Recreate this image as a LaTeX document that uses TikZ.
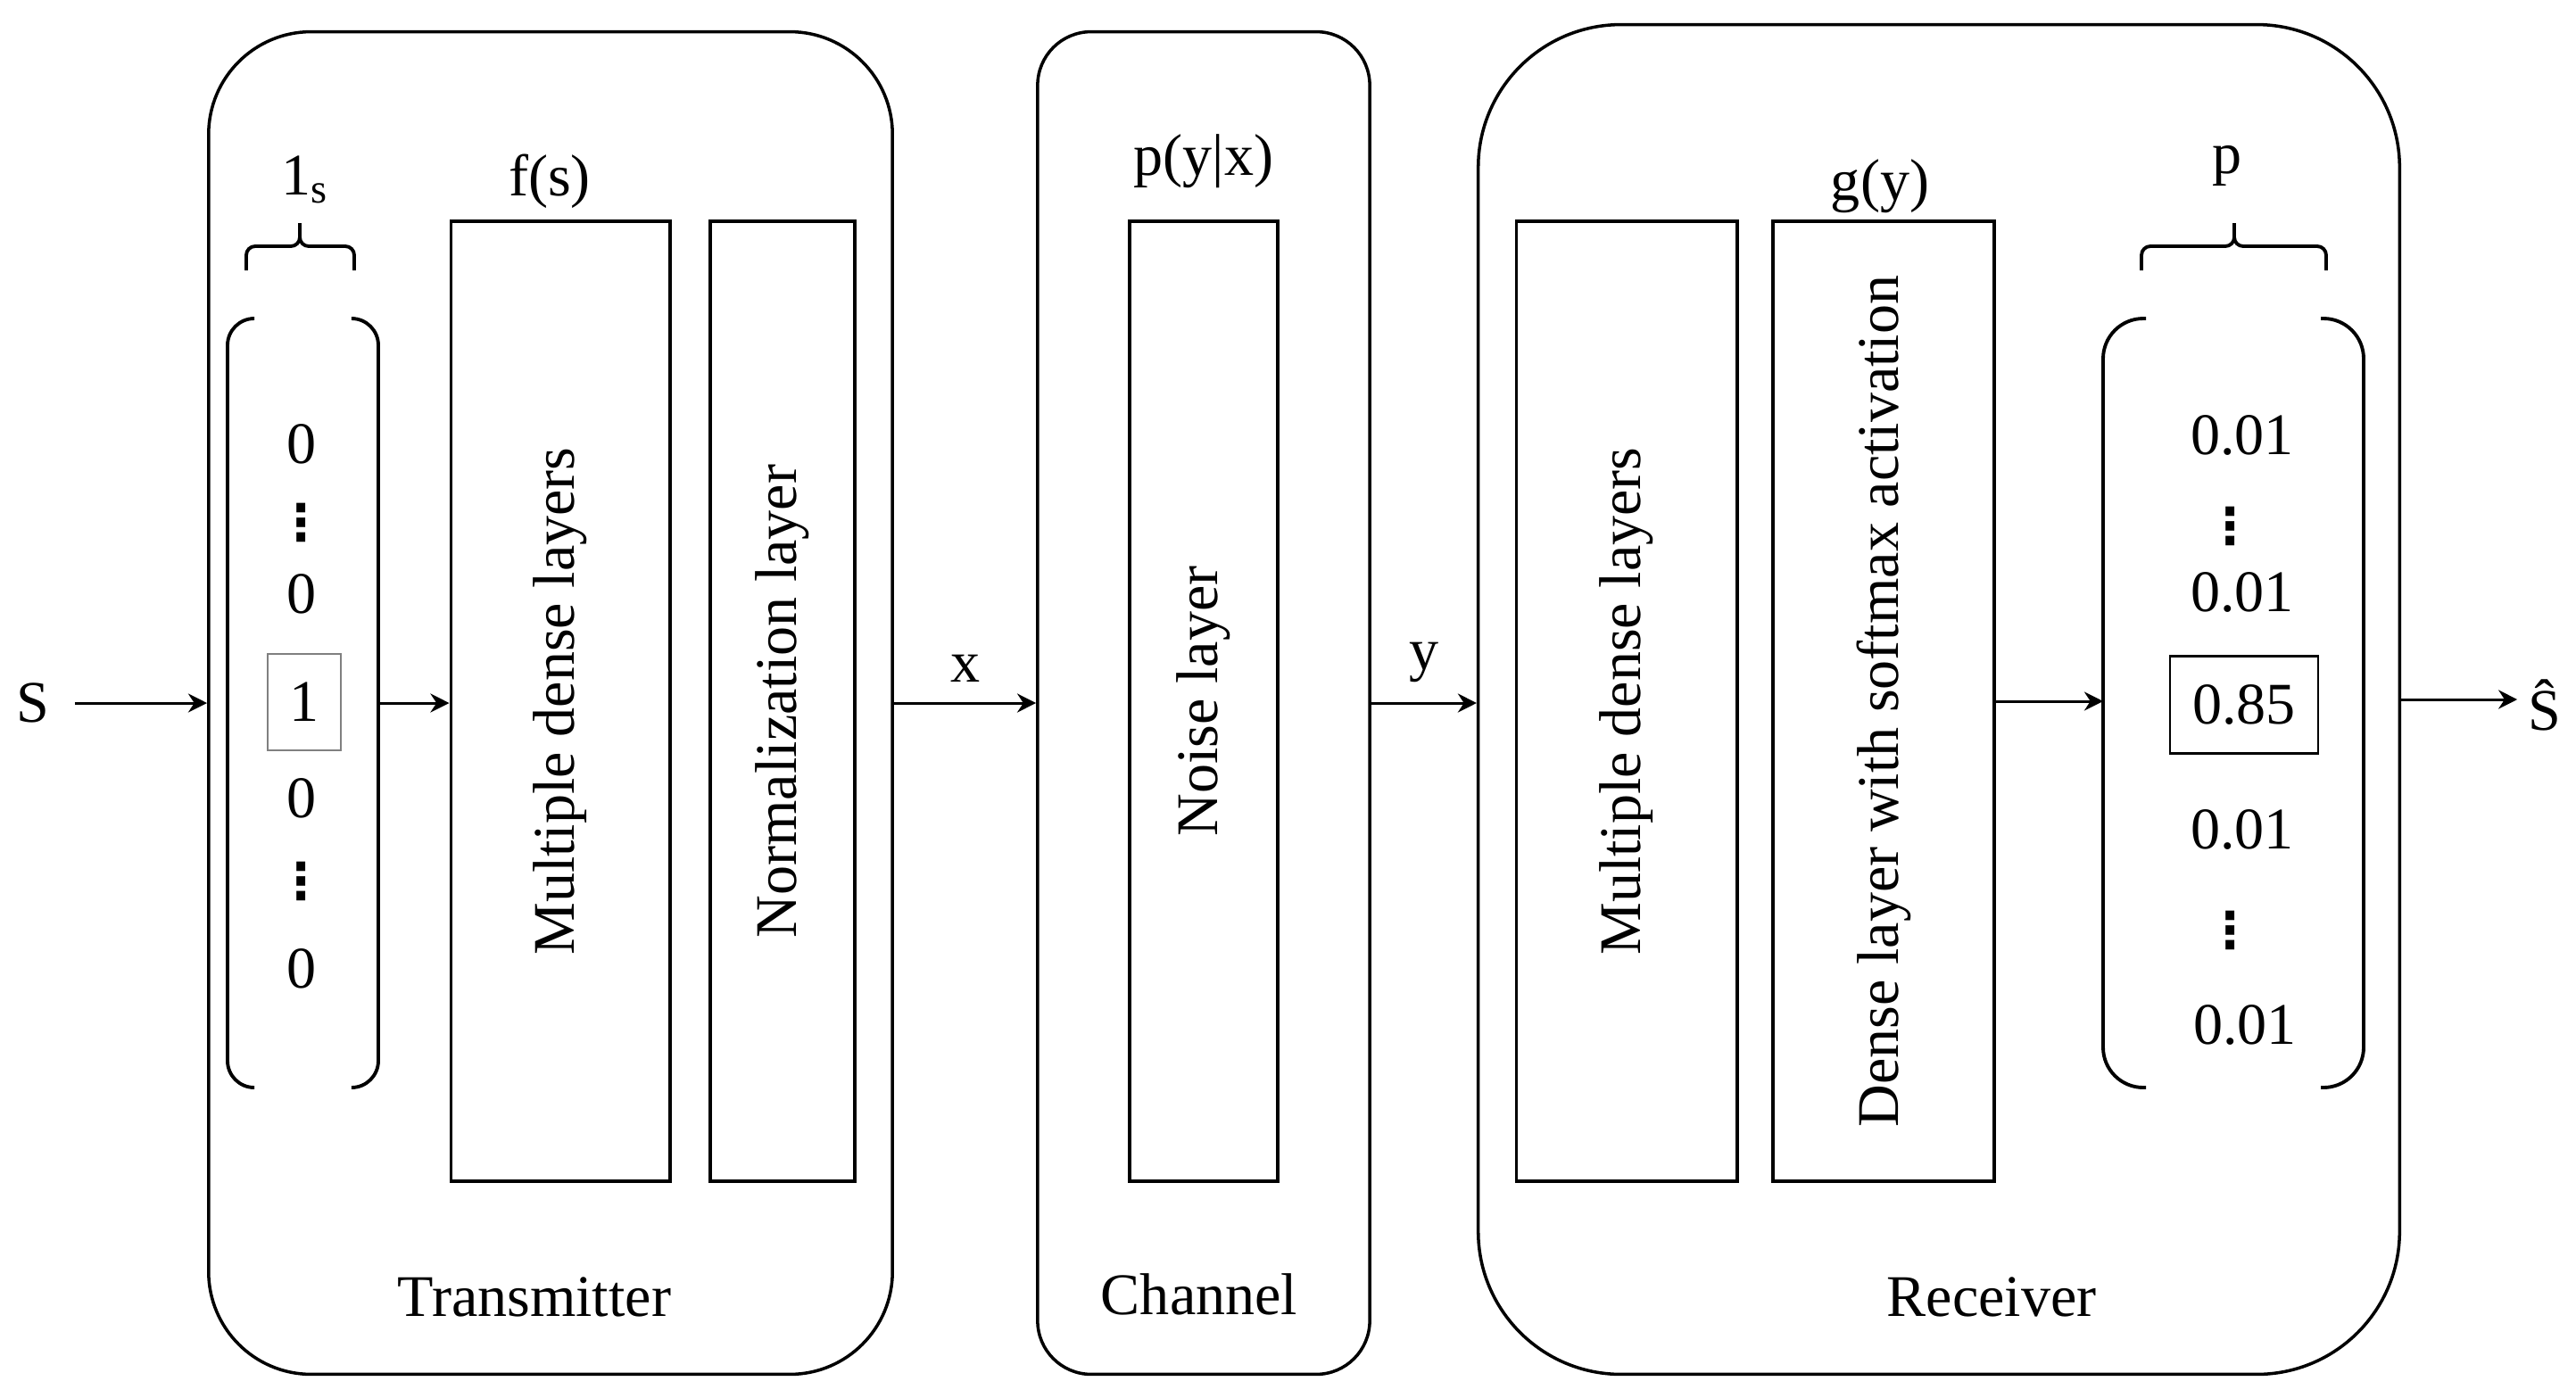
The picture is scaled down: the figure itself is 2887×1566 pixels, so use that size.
\documentclass[tikz,border=0pt]{standalone}
\usepackage{fontspec}
\setmainfont{Liberation Serif}
\newfontfamily\dotsfont{DejaVu Sans}
\usetikzlibrary{arrows.meta,positioning}

\newcommand{\vdts}{{\dotsfont\bfseries\fontsize{16}{16}\selectfont ⋮}}

\begin{document}
\begin{tikzpicture}[x=0.01cm,y=-0.01cm,
  font=\fontsize{18.8}{22}\selectfont,
  stage/.style={draw,line width=1pt,minimum height=15.04cm},
  layer/.style={draw,line width=1.1pt,minimum height=10.75cm},
  entry/.style={inner sep=0pt},
  arr/.style={-{Stealth[length=6pt,width=6pt]},line width=0.85pt},
  paren/.style={line width=1.1pt},
  brc/.style={line width=1.1pt,rounded corners=0.1cm}]
  \useasboundingbox (0,0) rectangle (2887,1566);

  % transmitter, channel, receiver
  \node[stage,rounded corners=1.15cm,minimum width=7.66cm] (tx) at (617,788) {};
  \node[stage,rounded corners=0.6cm,minimum width=3.72cm] (ch) at (1349,788) {};
  \node[stage,rounded corners=1.6cm,minimum width=10.32cm,minimum height=15.12cm] (rx) at (2173,784) {};
  \node[anchor=base] (txlab) at (599,1475) {Transmitter};
  \node[anchor=base] (chlab) at (1344,1473) {Channel};
  \node[anchor=base] (rxlab) at (2232,1475) {Receiver};

  % layers
  \node[layer,minimum width=2.45cm] (den1) at (628,786) {};
  \node[layer,minimum width=1.62cm] (norm) at (877,786) {};
  \node[layer,minimum width=1.66cm] (noise) at (1349,786) {};
  \node[layer,minimum width=2.47cm] (den2) at (1823,786) {};
  \node[layer,minimum width=2.48cm] (soft) at (2111,786) {};
  \node[rotate=90] (den1t) at (den1) {Multiple dense layers};
  \node[rotate=90] (normt) at (norm) {Normalization layer};
  \node[rotate=90] (noiset) at (noise) {Noise layer};
  \node[rotate=90] (den2t) at (den2) {Multiple dense layers};
  \node[rotate=90] (softt) at (soft) {Dense layer with softmax activation};
  \node[anchor=base] (fs) at (616,219) {f(s)};
  \node[anchor=base] (pyx) at (1349,196) {p(y|x)};
  \node[anchor=base] (gy) at (2107,224) {g(y)};

  % one-hot vector
  \draw[paren,rounded corners=0.3cm] (285,357) -- (255,357) -- (255,1219) -- (285,1219);
  \draw[paren,rounded corners=0.3cm] (395,357) -- (424,357) -- (424,1219) -- (395,1219);
  \draw[brc] (276,303) |- (336,276) -- (336,250);
  \draw[brc] (397,303) |- (336,276) -- (336,250);
  \node[anchor=base] (ones) at (342,218) {1\textsubscript{s}};
  \node[entry] (a1) at (338,498) {0};
  \node[entry] (a2) at (338,586) {\vdts};
  \node[entry] (a3) at (338,666) {0};
  \node[draw=gray,line width=0.6pt,minimum width=0.82cm,minimum height=1.08cm] (a4) at (341,787) {1};
  \node[entry] (a5) at (338,895) {0};
  \node[entry] (a6) at (338,988) {\vdts};
  \node[entry] (a7) at (338,1086) {0};
  \coordinate (vout) at (424,788);

  % output probabilities
  \draw[paren,rounded corners=0.45cm] (2405,357) -- (2357,357) -- (2357,1219) -- (2405,1219);
  \draw[paren,rounded corners=0.45cm] (2601,357) -- (2649,357) -- (2649,1219) -- (2601,1219);
  \draw[brc] (2400,303) |- (2504,276) -- (2504,250);
  \draw[brc] (2607,303) |- (2504,276) -- (2504,250);
  \node[anchor=base] (plab) at (2496,194) {p};
  \node[entry] (b1) at (2513,488) {0.01};
  \node[entry] (b2) at (2500,590) {\vdts};
  \node[entry] (b3) at (2513,664) {0.01};
  \node[draw,line width=0.8pt,minimum width=1.66cm,minimum height=1.09cm] (b4) at (2515,790) {0.85};
  \node[entry] (b5) at (2513,930) {0.01};
  \node[entry] (b6) at (2500,1043) {\vdts};
  \node[entry] (b7) at (2516,1149) {0.01};
  \coordinate (pin) at (2357,786);

  % signal flow
  \node (src) at (37,788) {S};
  \node (dst) at (2852,790) {\^{S}};
  \draw[arr,shorten <=0.16cm] (src) -- (tx.west);
  \draw[arr] (vout) -- (vout -| den1.west);
  \draw[arr] (tx.east) -- node[above=0.1cm] (xlab) {x} (ch.west);
  \draw[arr] (ch.east) -- node[above=0.1cm] (ylab) {y} (ch.east -| rx.west);
  \draw[arr] (soft.east) -- (soft.east -| pin);
  \draw[arr] (rx.east) -- (rx.east -| dst.west);
\end{tikzpicture}
\end{document}
